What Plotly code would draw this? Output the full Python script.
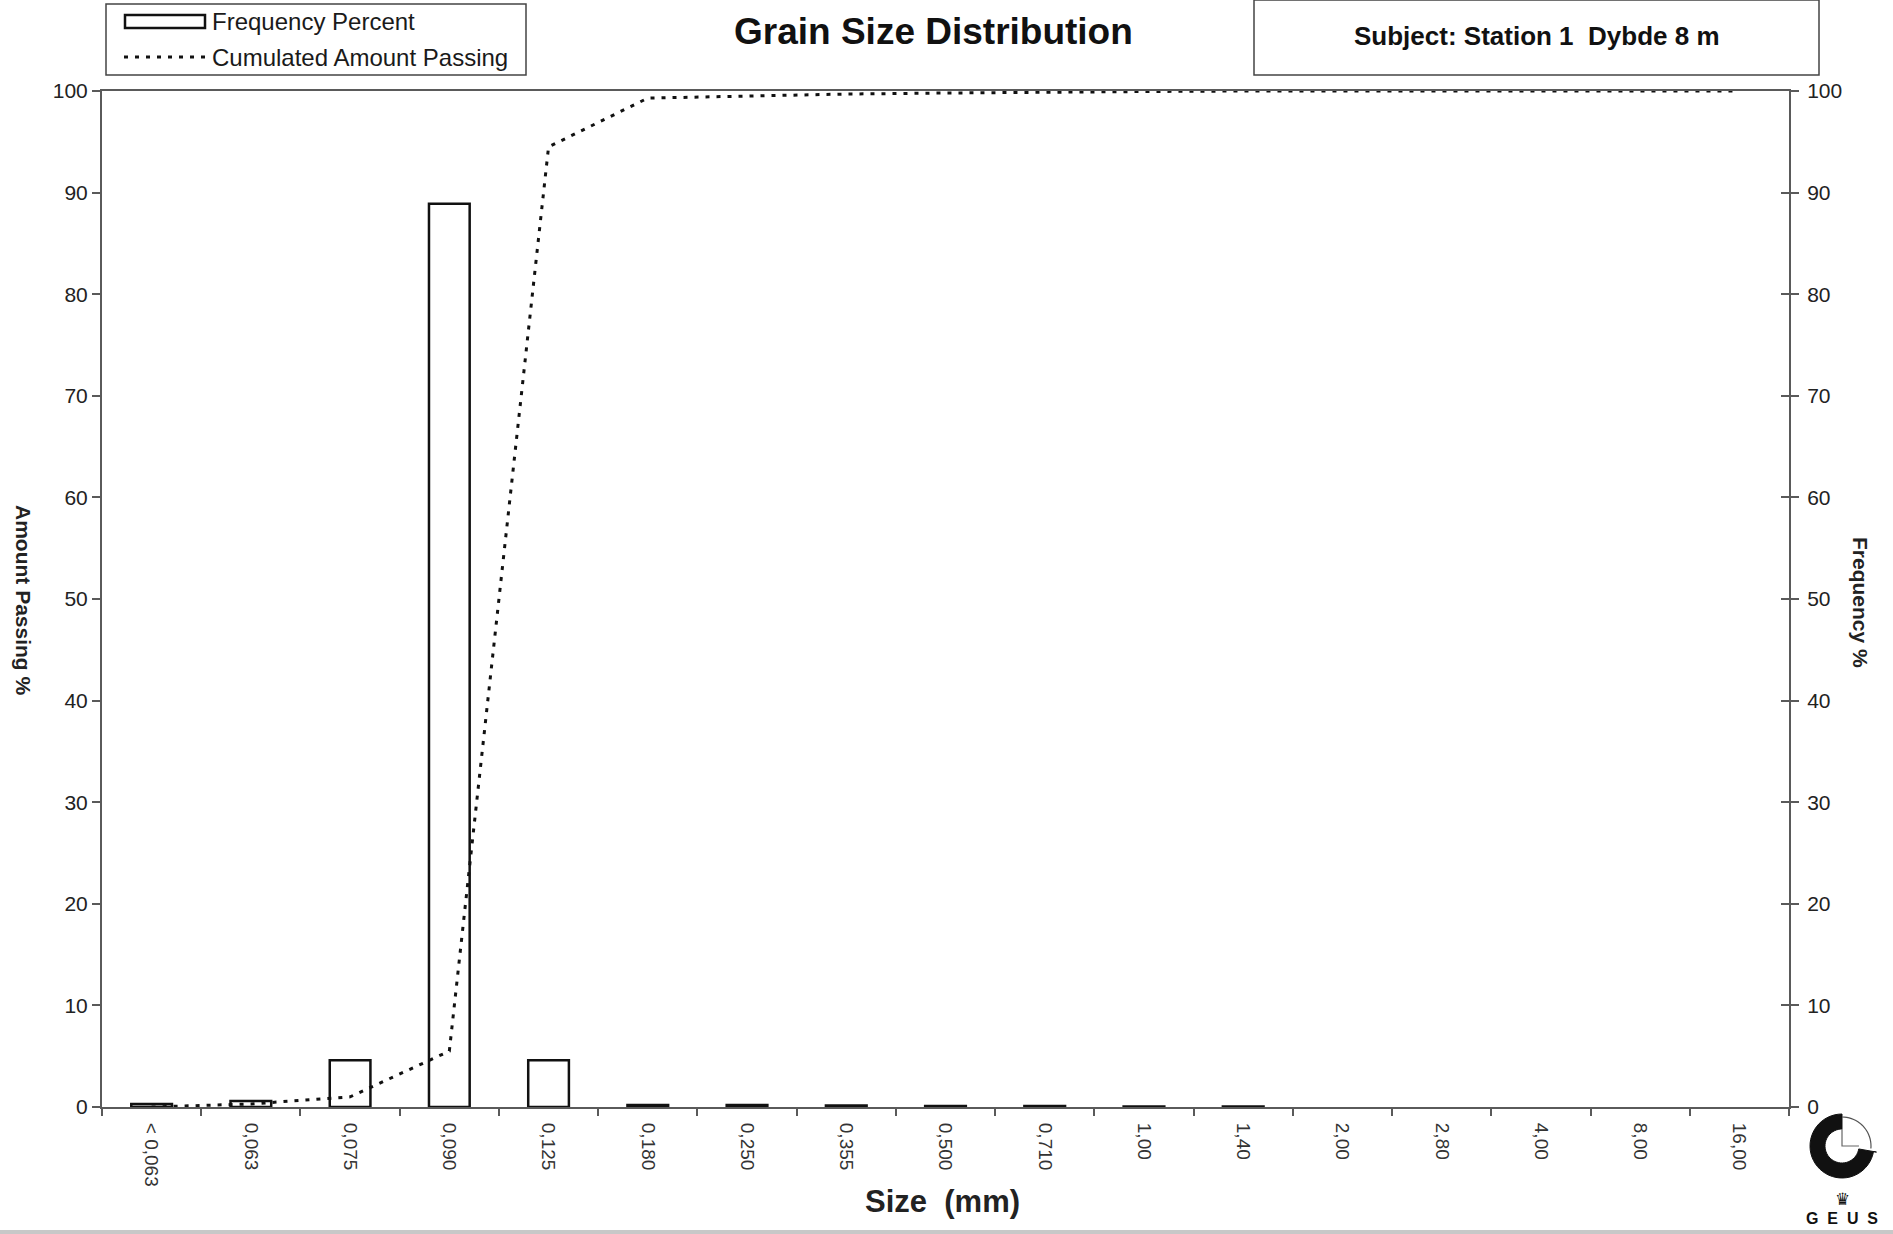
import math
import plotly.graph_objects as go

# Sieve classes (mm) and measured results
sizes = ["< 0,063", "0,063", "0,075", "0,090", "0,125", "0,180", "0,250", "0,355",
         "0,500", "0,710", "1,00", "1,40", "2,00", "2,80", "4,00", "8,00", "16,00"]
frequency_pct = [0.3, 0.6, 4.6, 88.9, 4.6, 0.2, 0.2, 0.15, 0.1, 0.1, 0.05, 0.05,
                 0, 0, 0, 0, 0]
cumulated_pct = [0, 0.3, 1.0, 5.5, 94.5, 99.3, 99.5, 99.7, 99.8, 99.9, 99.95, 100,
                 100, 100, 100, 100, 100]
y_ticks = [0, 10, 20, 30, 40, 50, 60, 70, 80, 90, 100]

W_PX, H_PX = 1893, 1234
L, R, T, B = 102, 1789, 91, 1107
FONT = "Arial, Liberation Sans, sans-serif"
AXIS_COL = "#5a5a5a"


def px_x(x):
    return (x - L) / (R - L)


def px_y(y):
    return (B - y) / (B - T)


fig = go.Figure()

fig.add_trace(go.Scatter(
    x=sizes, y=cumulated_pct, mode="lines", yaxis="y",
    line=dict(color="#111111", width=3, dash="4px,7px"),
    name="Cumulated Amount Passing", showlegend=False,
))
# empty classes get no outline, so nothing is drawn on the axis for them
bar_outline = [2.5 if v > 0 else 0 for v in frequency_pct]
fig.add_trace(go.Bar(
    x=sizes, y=frequency_pct, yaxis="y2",
    marker=dict(color="rgba(255,255,255,0)",
                line=dict(color="#111111", width=bar_outline)),
    name="Frequency Percent", showlegend=False,
))
# carrier for the crossing tick marks on the right axis
fig.add_trace(go.Scatter(x=[], y=[], yaxis="y3", showlegend=False, hoverinfo="skip"))

common_y = dict(range=[0, 100], tickvals=y_ticks, showgrid=False, zeroline=False,
                fixedrange=True, automargin=False)

fig.update_layout(
    width=W_PX, height=H_PX,
    margin=dict(l=L, r=W_PX - R, t=T, b=H_PX - B, pad=0),
    paper_bgcolor="white", plot_bgcolor="white",
    font=dict(family=FONT, color="#1a1a1a"),
    bargap=0.59,
    showlegend=False,
    xaxis=dict(
        type="category", categoryorder="array", categoryarray=sizes,
        range=[-0.5, len(sizes) - 0.5],
        showline=True, linecolor=AXIS_COL, linewidth=2, mirror=True,
        ticks="outside", tickson="boundaries", ticklen=7, tickwidth=1.5,
        tickcolor=AXIS_COL, tickangle=90, ticklabelstandoff=10,
        tickfont=dict(size=19, color="#333333"),
        showgrid=False, automargin=False,
    ),
    yaxis=dict(
        **common_y, side="left", showline=True, linecolor=AXIS_COL, linewidth=2,
        ticks="outside", ticklen=8, tickwidth=1.5, tickcolor=AXIS_COL,
        tickfont=dict(size=21, color="#222222"),
    ),
    yaxis2=dict(
        **common_y, side="right", overlaying="y", anchor="x",
        showline=True, linecolor=AXIS_COL, linewidth=2,
        ticks="outside", ticklen=8, tickwidth=1.5, tickcolor=AXIS_COL,
        ticklabelstandoff=4,
        tickfont=dict(size=21, color="#222222"),
    ),
    yaxis3=dict(
        **common_y, side="right", overlaying="y", anchor="x",
        showline=False, showticklabels=False,
        ticks="inside", ticklen=8, tickwidth=1.5, tickcolor=AXIS_COL,
    ),
)

shapes = []
annotations = []

# Legend box
shapes.append(dict(type="rect", xref="paper", yref="paper",
                   x0=px_x(106), x1=px_x(526), y0=px_y(75), y1=px_y(4),
                   line=dict(color="#444444", width=1.5), fillcolor="white", layer="above"))
shapes.append(dict(type="rect", xref="paper", yref="paper",
                   x0=px_x(125), x1=px_x(205), y0=px_y(28), y1=px_y(15),
                   line=dict(color="#111111", width=2.5), fillcolor="white", layer="above"))
shapes.append(dict(type="line", xref="paper", yref="paper",
                   x0=px_x(124), x1=px_x(208), y0=px_y(57), y1=px_y(57),
                   line=dict(color="#111111", width=3, dash="4px,7px"), layer="above"))
annotations.append(dict(text="Frequency Percent", xref="paper", yref="paper",
                        x=px_x(210), y=px_y(22), xanchor="left", yanchor="middle",
                        showarrow=False, font=dict(size=24, color="#1a1a1a")))
annotations.append(dict(text="Cumulated Amount Passing", xref="paper", yref="paper",
                        x=px_x(210), y=px_y(57), xanchor="left", yanchor="middle",
                        showarrow=False, font=dict(size=24, color="#1a1a1a")))

# Title
annotations.append(dict(text="<b>Grain Size Distribution</b>", xref="paper", yref="paper",
                        x=px_x(933), y=px_y(31), xanchor="center", yanchor="middle",
                        showarrow=False, font=dict(size=37, color="#111111")))

# Subject box
shapes.append(dict(type="rect", xref="paper", yref="paper",
                   x0=px_x(1254), x1=px_x(1819), y0=px_y(75), y1=px_y(0),
                   line=dict(color="#444444", width=1.5), fillcolor="white", layer="above"))
annotations.append(dict(text="<b>Subject: Station 1\u00a0 Dybde 8 m</b>", xref="paper",
                        yref="paper", x=px_x(1537), y=px_y(36), xanchor="center",
                        yanchor="middle", showarrow=False,
                        font=dict(size=26, color="#111111")))

# Axis titles
annotations.append(dict(text="<b>Size\u00a0 (mm)</b>", xref="paper", yref="paper",
                        x=px_x(942), y=px_y(1201), xanchor="center", yanchor="middle",
                        showarrow=False, font=dict(size=31, color="#222222")))
annotations.append(dict(text="<b>Amount Passing %</b>", xref="paper", yref="paper",
                        x=px_x(24), y=px_y(600), xanchor="center", yanchor="middle",
                        textangle=90, showarrow=False, font=dict(size=21, color="#222222")))
annotations.append(dict(text="<b>Frequency %</b>", xref="paper", yref="paper",
                        x=px_x(1861), y=px_y(602), xanchor="center", yanchor="middle",
                        textangle=90, showarrow=False, font=dict(size=21, color="#222222")))

# GEUS emblem: thick ring open at the upper-right quadrant
cx, cy, r_out, r_in = 1842, 1146, 32, 17


def arc_points(radius, a0, a1, n=40):
    pts = []
    for k in range(n + 1):
        a = math.radians(a0 + (a1 - a0) * k / n)
        pts.append((cx + radius * math.cos(a), cy - radius * math.sin(a)))
    return pts


outer = arc_points(r_out, 90, 350)
inner = arc_points(r_in, 350, 90)
ring = outer + [(cx + (r_out + 3) * math.cos(math.radians(350)),
                 cy - (r_out + 3) * math.sin(math.radians(350)))] + inner
path = "M " + " L ".join(f"{px_x(x):.5f},{px_y(y):.5f}" for x, y in ring) + " Z"
shapes.append(dict(type="path", xref="paper", yref="paper", path=path,
                   fillcolor="#111111", line=dict(color="#111111", width=1), layer="above"))
thin = arc_points(r_out - 3, 90, -5, n=20)
thin_path = "M " + " L ".join(f"{px_x(x):.5f},{px_y(y):.5f}" for x, y in thin)
shapes.append(dict(type="path", xref="paper", yref="paper", path=thin_path,
                   line=dict(color="#555555", width=1.2), layer="above"))
quarter = [(cx, cy - r_in), (cx, cy), (cx + r_in, cy)]
q_path = "M " + " L ".join(f"{px_x(x):.5f},{px_y(y):.5f}" for x, y in quarter)
shapes.append(dict(type="path", xref="paper", yref="paper", path=q_path,
                   line=dict(color="#666666", width=1.2), layer="above"))
annotations.append(dict(text="♛", xref="paper", yref="paper", x=px_x(1842), y=px_y(1199),
                        xanchor="center", yanchor="middle", showarrow=False,
                        font=dict(size=17, color="#111111", family="DejaVu Sans")))
annotations.append(dict(text="<b>G\u00a0\u00a0E\u00a0\u00a0U\u00a0\u00a0S</b>", xref="paper",
                        yref="paper", x=px_x(1842), y=px_y(1218), xanchor="center",
                        yanchor="middle", showarrow=False,
                        font=dict(size=16, color="#111111")))

# Scanner edge along the bottom
shapes.append(dict(type="rect", xref="paper", yref="paper",
                   x0=px_x(0), x1=px_x(W_PX), y0=px_y(W_PX), y1=px_y(1230),
                   line=dict(width=0), fillcolor="#c8c8c8", layer="above"))

fig.update_layout(shapes=shapes, annotations=annotations)
fig.write_html("out.html")
